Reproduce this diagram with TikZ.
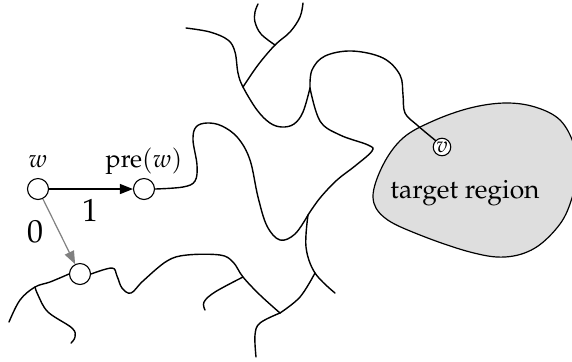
\documentclass[tikz,border=0pt]{standalone}
\usepackage[T1]{fontenc}
\usepackage{mathpazo}
\usetikzlibrary{arrows.meta}
\definecolor{regionfill}{gray}{0.87}
\begin{document}
\begin{tikzpicture}[x=0.5pt,y=-0.5pt,
  vtx/.style={circle,draw,line width=0.55pt,minimum size=10.5pt,inner sep=0pt,fill=white},
  smallvtx/.style={circle,draw,line width=0.55pt,minimum size=8pt,inner sep=0.3pt,fill=white,font=\fontsize{11}{13}\selectfont},
  trail/.style={line width=0.7pt,line cap=round},
  lbl/.style={font=\fontsize{12.5}{15}\selectfont,inner sep=0pt,anchor=base},
  biglbl/.style={font=\fontsize{16}{19}\selectfont,inner sep=0pt,anchor=base},
  move/.style={line width=0.6pt,-{Triangle[length=6.5pt,width=5pt]}}]
\useasboundingbox (0,0) rectangle (572,361);

% target region
\draw[line width=0.6pt,fill=regionfill] plot[smooth cycle,tension=0.6] coordinates {
  (373,197) (383,165) (403,138) (433,121) (470,108) (505,103) (535,107)
  (560,120) (574,145) (577,172) (572,198) (560,224) (535,248) (505,257)
  (470,252) (420,235) (385,218)};
\node[font=\fontsize{13.2}{16}\selectfont,inner sep=0pt] (tr) at (465,193) {target region};

% junction points of the branching trails
\coordinate (ja) at (310,88);
\coordinate (jb) at (243,87);
\coordinate (jc) at (275,45);
\coordinate (jd) at (308,215);
\coordinate (je) at (315,273);
\coordinate (jf) at (280,313);
\coordinate (jg) at (243,277);
\coordinate (jh) at (35,287);

% vertices
\node[vtx] (w) at (38,189) {};
\node[vtx] (pw) at (144,189) {};
\node[vtx] (lo) at (80,274) {};
\node[smallvtx] (v) at (442,147) {$v$};
\node[lbl] (wl) at (38,167) {$w$};
\node[lbl] (pwl) at (144,167) {pre$(w)$};

% trail from pre(w) to junction d
\draw[trail] plot[smooth,tension=0.6] coordinates {
  (pw.east) (183,187) (195,181) (197,165) (193,140) (196,127) (207,123)
  (222,126) (238,138) (250,160) (258,197) (267,226) (280,240) (295,234) (jd)};
% junction d up-right to the corner and back to junction a
\draw[trail] plot[smooth,tension=0.6] coordinates {
  (jd) (320,198) (337,180) (355,166) (372,151) (368,145) (340,135) (320,121) (ja)};
% top-left trail through junction b to junction a
\draw[trail] plot[smooth,tension=0.6] coordinates {
  (186,28) (210,32) (228,40) (235,52) (238,73) (jb) (257,110) (270,123)
  (282,127) (294,124) (303,112) (ja)};
% loop from junction a to v
\draw[trail] plot[smooth,tension=0.6] coordinates {
  (ja) (312,70) (325,56) (352,51) (383,58) (400,75) (403,95) (405,113)
  (417,125) (v.north west)};
% branches at the top
\draw[trail] plot[smooth,tension=0.6] coordinates {(jb) (258,65) (jc) (290,32) (300,17) (303,3)};
\draw[trail] plot[smooth,tension=0.6] coordinates {(jc) (261,34) (255,22) (255,12) (258,4)};
% lower trails
\draw[trail] plot[smooth,tension=0.6] coordinates {(jd) (306,247) (je) (335,293)};
\draw[trail] plot[smooth,tension=0.6] coordinates {(je) (300,297) (jf)};
\draw[trail] plot[smooth,tension=0.6] coordinates {(jf) (260,323) (255,335) (256,357)};
\draw[trail] plot[smooth,tension=0.6] coordinates {
  (lo.east) (112,268) (117,276) (122,288) (131,293) (143,281) (167,261)
  (187,255) (220,255) (233,262) (jg) (260,295) (jf)};
\draw[trail] plot[smooth,tension=0.6] coordinates {(jg) (215,292) (204,302) (205,310)};
% trails at the lower-left vertex
\draw[trail] plot[smooth,tension=0.6] coordinates {(lo.west) (50,282) (jh) (20,300) (9,322)};
\draw[trail] plot[smooth,tension=0.6] coordinates {(jh) (38,295) (48,312) (72,328) (75,337) (71,343)};

% moves from w
\draw[move] (w) -- (pw);
\draw[move,draw=gray,-{Triangle[length=6.5pt,width=5pt,fill=gray]}] (w) -- (lo);
\node[biglbl] (one) at (90,221) {1};
\node[biglbl] (zero) at (35,242) {0};
\end{tikzpicture}
\end{document}
